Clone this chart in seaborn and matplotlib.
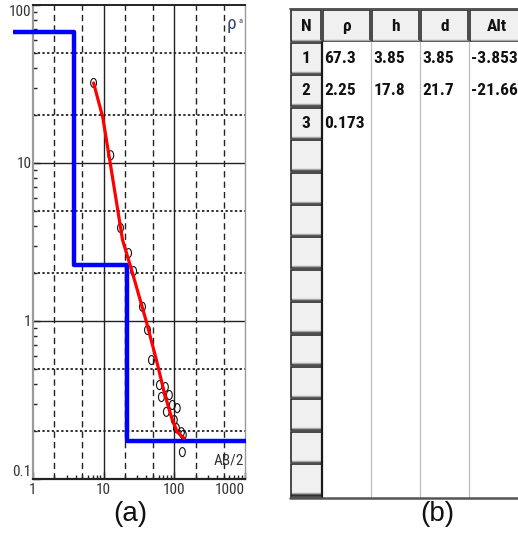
import numpy as np
import matplotlib
matplotlib.use('Agg')
import matplotlib.pyplot as plt
import seaborn as sns
from matplotlib.patches import Rectangle
from matplotlib.path import Path
from matplotlib.markers import MarkerStyle
from matplotlib.transforms import Affine2D
from matplotlib import font_manager

# ---------------- data ----------------
ab2 = [7.2, 12.6, 17.3, 22.5, 26.5, 35.4, 41.7, 47.5, 61.5, 74.7, 65.6, 85.1,
       77.1, 93.7, 110, 100, 107, 126, 134, 130]
rho_a = [32.1, 11.2, 3.88, 2.69, 2.07, 1.23, 0.877, 0.566, 0.393, 0.382, 0.330,
         0.340, 0.266, 0.294, 0.281, 0.236, 0.210, 0.198, 0.190, 0.148]
fit_ab2 = [7.2, 9.7, 12.2, 18.5, 25.6, 40.3, 55.8, 72.3, 90.8, 110, 138]
fit_rho = [32.1, 19.5, 10.4, 3.26, 2.01, 0.986, 0.566, 0.35, 0.247, 0.198, 0.181]

layer_n = ['1', '2', '3']
layer_rho = [67.3, 2.25, 0.173]
layer_h = [3.85, 17.8]
layer_d = [3.85, 21.7]
layer_alt = [-3.853, -21.66]
rho_labels = ['67.3', '2.25', '0.173']
h_labels = ['3.85', '17.8']
d_labels = ['3.85', '21.7']
alt_labels = ['-3.853', '-21.66']
table_headers = ['N', 'ρ', 'h', 'd', 'Alt']
model_x_range = [0.52, 1050]

x_ticks = [1, 10, 100, 1000]
x_tick_labels = ['1', '10', '100', '1000']
y_ticks = [0.1, 1, 10, 100]
y_tick_labels = ['0.1', '1', '10', '100']

# ---------------- style ----------------
sns.set_theme(style='white')
installed = {f.name for f in font_manager.fontManager.ttflist}
narrow = [n for n in ['Roboto Condensed', 'Liberation Sans Narrow', 'Open Sans Condensed',
                      'DejaVu Sans Condensed', 'Liberation Sans'] if n in installed]
NARROW = narrow + ['DejaVu Sans']
plt.rcParams['font.family'] = NARROW

W, H = 518, 544
fig = plt.figure(figsize=(W / 100, H / 100), dpi=100)
fig.patch.set_facecolor('white')

# ---------------- chart (a) ----------------
L, R, T, B = 33, 245, 5, 479
ax = fig.add_axes([L / W, 1 - B / H, (R - L) / W, (B - T) / H])
ax.set_xscale('log')
ax.set_yscale('log')
ax.set_xlim(1, 1000)
ax.set_ylim(0.1, 100)

# grid
for v in [2, 5, 20, 50, 200, 500]:
    ax.axvline(v, color='#222222', lw=1.0, ls=(0, (4.5, 3)), zorder=1)
for v in [10, 100]:
    ax.axvline(v, color='#222222', lw=1.0, zorder=1)
for v in [0.2, 0.5, 2, 5, 20, 50]:
    ax.axhline(v, color='#222222', lw=1.3, ls=(0, (1.3, 1.3)), zorder=1)
for v in [1, 10]:
    ax.axhline(v, color='#222222', lw=1.0, zorder=1)

# layered model (step line)
mx = [model_x_range[0]]
my = [layer_rho[0]]
for i, dd in enumerate(layer_d):
    mx += [dd, dd]
    my += [layer_rho[i], layer_rho[i + 1]]
mx.append(model_x_range[1])
my.append(layer_rho[-1])
sns.lineplot(x=mx, y=my, sort=False, estimator=None, ax=ax, color='#0000ff',
             lw=3.2, zorder=3)
ax.lines[-1].set_clip_on(False)
ax.lines[-1].set_solid_capstyle('butt')

# measured points
ell = MarkerStyle(Path.unit_circle().transformed(Affine2D().scale(0.65, 1.0)))
sns.scatterplot(x=ab2, y=rho_a, ax=ax, marker=ell, s=42, facecolor='none',
                edgecolor='#111111', linewidth=0.8, zorder=4)

# fitted curve
sns.lineplot(x=fit_ab2, y=fit_rho, ax=ax, color='#ff0000', lw=2.3, zorder=5,
             sort=False, estimator=None)

# spines
for s, c, w in [('left', '#9a9a9a', 1.6), ('right', '#9a9a9a', 1.0),
                ('top', '#222222', 1.4), ('bottom', '#222222', 1.6)]:
    ax.spines[s].set_visible(True)
    ax.spines[s].set_color(c)
    ax.spines[s].set_linewidth(w)

ax.set_xticks(x_ticks)
ax.set_xticklabels(x_tick_labels)
ax.set_yticks(y_ticks)
ax.set_yticklabels(y_tick_labels)
ax.xaxis.set_minor_locator(matplotlib.ticker.LogLocator(base=10, subs=np.arange(2, 10)))
ax.yaxis.set_minor_locator(matplotlib.ticker.LogLocator(base=10, subs=np.arange(2, 10)))
ax.xaxis.set_minor_formatter(matplotlib.ticker.NullFormatter())
ax.yaxis.set_minor_formatter(matplotlib.ticker.NullFormatter())
ax.tick_params(axis='both', which='major', direction='in', length=5, width=1,
               color='#222222', labelsize=11, labelcolor='#333333', pad=3)
ax.tick_params(axis='both', which='minor', direction='in', length=3, width=1,
               color='#222222')
ax.tick_params(axis='x', bottom=True, top=False, which='both')
ax.tick_params(axis='y', left=True, right=False, which='both', pad=1)
ax.set_xlabel('')
ax.set_ylabel('')

ytk = ax.yaxis.get_major_ticks()
ytk[0].label1.set_va('bottom')
ytk[-1].label1.set_va('top')
xtk = ax.xaxis.get_major_ticks()
xtk[-1].label1.set_ha('right')

ax.text(0.958, 0.96, 'ρ', transform=ax.transAxes, ha='right', va='center',
        fontsize=14, color='#3a4a70')
ax.text(0.99, 0.966, 'a', transform=ax.transAxes, ha='right', va='center',
        fontsize=6, color='#3a4a70')
ax.text(0.995, 0.04, 'AB/2', transform=ax.transAxes, ha='right', va='center',
        fontsize=11, color='#333333')

# ---------------- table (b) ----------------
tab = fig.add_axes([0, 0, 1, 1], zorder=-1)
tab.set_xlim(0, W)
tab.set_ylim(H, 0)
tab.axis('off')

col_edges = [290, 322, 371, 420, 469, 525]
top, head_b, bottom = 9, 42, 498
row_h = 32.4
n_rows = 14
TFS = 12.5 if narrow and narrow[0] != 'Liberation Sans' else 10.5

tab.add_patch(Rectangle((290, top), W - 290, bottom - top, facecolor='white',
                        edgecolor='none'))
for i in range(len(table_headers)):
    x0, x1 = col_edges[i], col_edges[i + 1]
    tab.add_patch(Rectangle((x0 + 1, top + 1), x1 - x0 - 2, head_b - top - 2,
                            facecolor='#f0f0f0', edgecolor='#2a2a2a', lw=1.2))
    tab.plot([x0 + 2, x1 - 2], [head_b - 2.5, head_b - 2.5], color='#a8a8a8', lw=1.0)
    tab.text((x0 + x1) / 2, (top + head_b) / 2 + 1, table_headers[i],
             ha='center', va='center', fontsize=TFS, fontweight='bold', color='#111111')

for x in col_edges[2:-1]:
    tab.plot([x, x], [head_b, bottom], color='#bdbdbd', lw=0.9)

for r in range(n_rows):
    y0 = head_b + r * row_h
    tab.add_patch(Rectangle((291, y0 + 1), 31, row_h - 2, facecolor='#f0f0f0',
                            edgecolor='#2a2a2a', lw=1.2))
    tab.plot([292, 321], [y0 + row_h - 2.5, y0 + row_h - 2.5], color='#a8a8a8', lw=1.0)
y_last = head_b + n_rows * row_h
tab.add_patch(Rectangle((291, y_last), 31, bottom - y_last, facecolor='#f0f0f0',
                        edgecolor='#2a2a2a', lw=1.2))
tab.plot([322, 322], [head_b, bottom], color='#1a1a1a', lw=1.6)
tab.plot([290, W], [bottom, bottom], color='#555555', lw=1.8)
tab.plot([290, W], [top, top], color='#555555', lw=1.4)

for r, lab in enumerate(layer_n):
    yc = head_b + (r + 0.5) * row_h
    tab.text(306, yc, lab, ha='center', va='center', fontsize=TFS,
             fontweight='bold', color='#111111')
columns = [rho_labels, h_labels, d_labels, alt_labels]
for c, vals in enumerate(columns):
    for r, v in enumerate(vals):
        yc = head_b + (r + 0.5) * row_h
        tab.text(col_edges[c + 1] + 2.5, yc, v, ha='left', va='center',
                 fontsize=TFS, fontweight='bold', color='#111111')

fig.text(130 / W, 1 - 514 / H, '(a)', ha='center', va='center', fontsize=20,
         family=['Liberation Sans', 'DejaVu Sans'], color='#111111')
fig.text(437 / W, 1 - 514 / H, '(b)', ha='center', va='center', fontsize=20,
         family=['Liberation Sans', 'DejaVu Sans'], color='#111111')

fig.savefig('out.png', dpi=100, facecolor='white')
